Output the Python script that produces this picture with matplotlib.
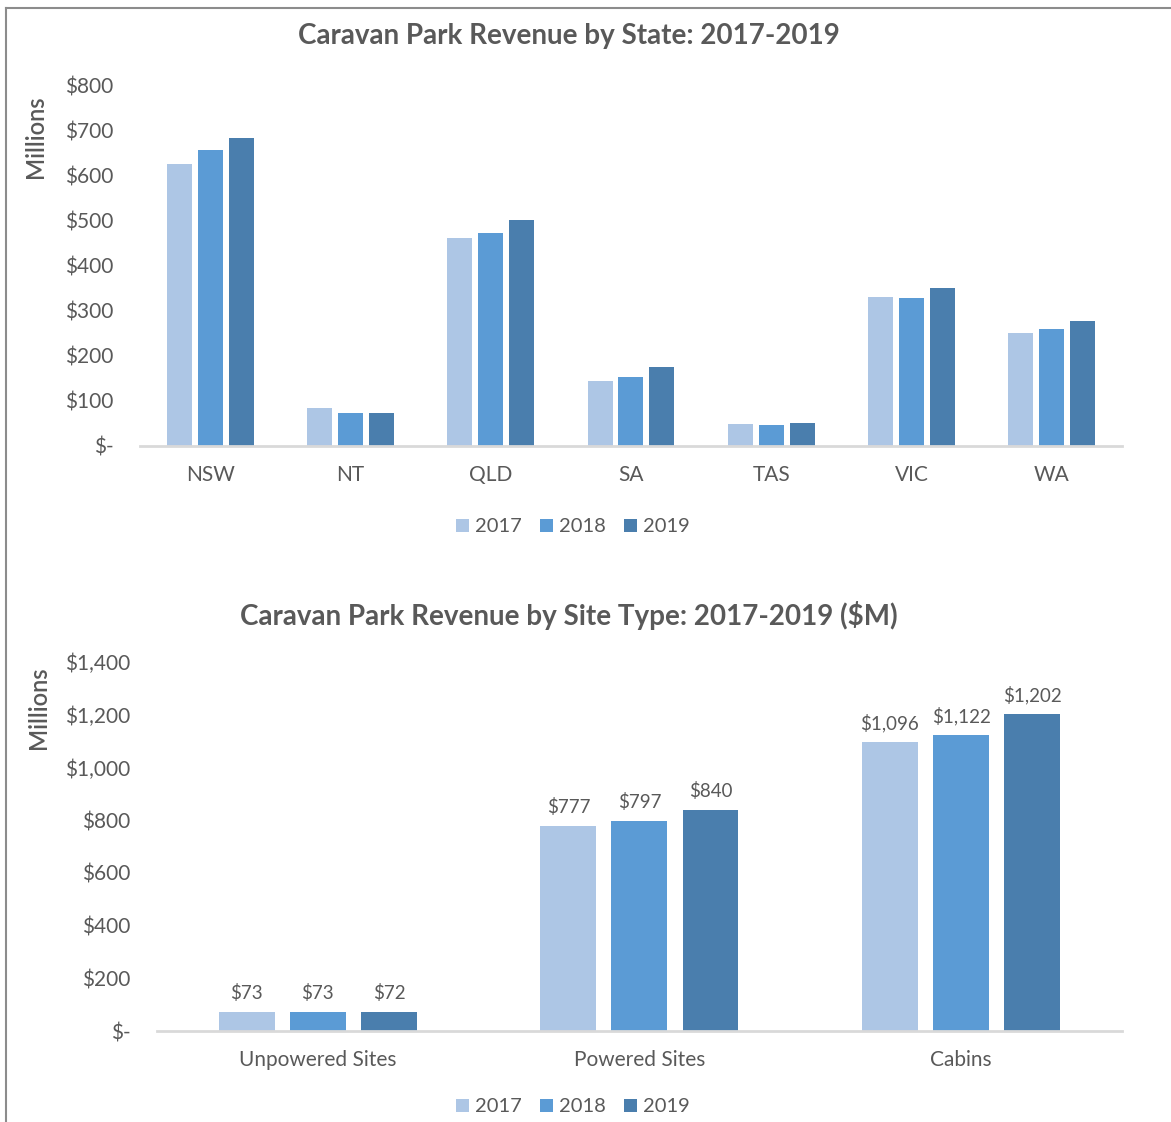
import matplotlib.pyplot as plt
import numpy as np
from matplotlib.lines import Line2D
from matplotlib.ticker import FuncFormatter

years = ["2017", "2018", "2019"]

states = ["NSW", "NT", "QLD", "SA", "TAS", "VIC", "WA"]
state_2017 = [627, 85, 462, 145, 49, 330, 250]
state_2018 = [658, 73, 474, 154, 46, 328, 260]
state_2019 = [684, 73, 503, 176, 50, 352, 278]

site_types = ["Unpowered Sites", "Powered Sites", "Cabins"]
site_2017 = [73, 777, 1096]
site_2018 = [73, 797, 1122]
site_2019 = [72, 840, 1202]

colors = ["#ADC6E5", "#5B9BD5", "#4A7EAD"]
text_color = "#595959"
axis_color = "#D9D9D9"

plt.rcParams["font.family"] = ["Lato", "DejaVu Sans"]


def dollars(v, _pos=None):
    if v == 0:
        return "$-"
    return f"${v:,.0f}"


def style_axis(ax, ymax, step):
    ax.set_ylim(0, ymax)
    ax.set_yticks(np.arange(0, ymax + 1, step))
    ax.yaxis.set_major_formatter(FuncFormatter(dollars))
    for side in ["top", "right", "left"]:
        ax.spines[side].set_visible(False)
    ax.spines["bottom"].set_color(axis_color)
    ax.spines["bottom"].set_linewidth(2)
    ax.tick_params(axis="both", length=0, labelsize=15, colors=text_color)
    ax.tick_params(axis="y", pad=19)
    ax.tick_params(axis="x", pad=14)


def grouped_bars(ax, cats, series, width, step, labels=False):
    x = np.arange(len(cats))
    for i, (vals, c, yr) in enumerate(zip(series, colors, years)):
        b = ax.bar(x + (i - 1) * step, vals, width, color=c, label=yr)
        if labels:
            ax.bar_label(b, labels=[dollars(v) for v in vals], padding=7,
                         fontsize=13.5, color=text_color)
    ax.set_xticks(x)
    ax.set_xticklabels(cats)
    ax.set_xlim(-0.5, len(cats) - 0.5)


def add_legend(fig, ax, y_px):
    fig.legend(*ax.get_legend_handles_labels(), loc="center",
               bbox_to_anchor=(573 / 1171, 1 - y_px / 1122), ncol=3,
               frameon=False, fontsize=14.5, labelcolor=text_color,
               handlelength=0.65, handleheight=0.65, handletextpad=0.3,
               columnspacing=0.9)


fig = plt.figure(figsize=(11.71, 11.22), dpi=100)

# revenue by state
ax1 = fig.add_axes([0.1196, 0.6025, 0.8384, 0.3209])
grouped_bars(ax1, states, [state_2017, state_2018, state_2019], 0.178, 0.22)
style_axis(ax1, 800, 100)
ax1.text(-0.106, 0.86, "Millions", transform=ax1.transAxes, rotation=90,
         ha="center", va="center", fontsize=17, fontweight="semibold",
         color=text_color)
fig.text(569 / 1171, 1 - 36 / 1122, "Caravan Park Revenue by State: 2017-2019",
         ha="center", va="center", fontsize=20, fontweight="bold", color=text_color)
add_legend(fig, ax1, 527)

# revenue by site type
ax2 = fig.add_axes([0.1341, 0.0811, 0.8239, 0.3289])
grouped_bars(ax2, site_types, [site_2017, site_2018, site_2019], 0.174, 0.221,
             labels=True)
style_axis(ax2, 1400, 200)
ax2.text(-0.123, 0.875, "Millions", transform=ax2.transAxes, rotation=90,
         ha="center", va="center", fontsize=17, fontweight="semibold",
         color=text_color)
fig.text(569 / 1171, 1 - 615 / 1122,
         "Caravan Park Revenue by Site Type: 2017-2019 ($M)",
         ha="center", va="center", fontsize=20, fontweight="bold", color=text_color)
add_legend(fig, ax2, 1107)

# page frame along the top and left edges
fig.add_artist(Line2D([6 / 1171, 6 / 1171], [0, 1 - 8 / 1122],
                      transform=fig.transFigure, color="#8C8C8C", lw=1.5))
fig.add_artist(Line2D([6 / 1171, 1], [1 - 8 / 1122, 1 - 8 / 1122],
                      transform=fig.transFigure, color="#8C8C8C", lw=1.5))

fig.savefig("out.png", dpi=100, facecolor="white")
